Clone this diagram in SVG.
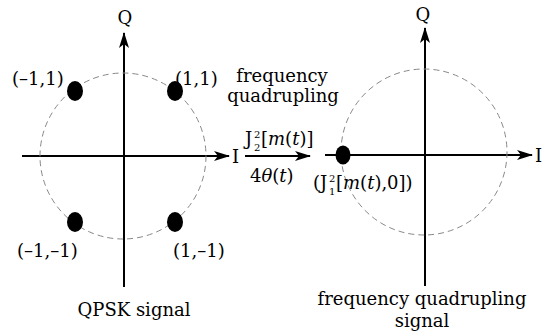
<svg xmlns="http://www.w3.org/2000/svg" width="556" height="334" viewBox="0 0 556 334">
<defs>
<style>
text{font-family:"DejaVu Serif","Liberation Serif",serif;font-size:18px;fill:#000}
.ax{stroke:#000;stroke-width:2;fill:none}
.circ{stroke:#888;stroke-width:1;fill:none;stroke-dasharray:6 4}
.dot{fill:#000}
.sm{font-size:10px}
.it{font-style:italic}
</style>
<marker id="ah" viewBox="0 0 16 10" refX="15" refY="5" markerWidth="16" markerHeight="10" markerUnits="userSpaceOnUse" orient="auto">
<path d="M0,0 L16,5 L0,10 L4,5 Z" fill="#000"/>
</marker>
</defs>
<rect width="556" height="334" fill="#fff"/>
<g id="connectors">
<line class="ax" x1="124" y1="287" x2="124" y2="33" marker-end="url(#ah)"/>
<line class="ax" x1="22" y1="156" x2="229" y2="156" marker-end="url(#ah)"/>
<line class="ax" x1="425" y1="286" x2="425" y2="28" marker-end="url(#ah)"/>
<line class="ax" x1="325" y1="155" x2="532" y2="155" marker-end="url(#ah)"/>
<line class="ax" x1="245" y1="156" x2="310" y2="156" marker-end="url(#ah)"/>
</g>
<g id="qpsk">
<circle class="circ" cx="123" cy="156" r="83"/>
<text x="125" y="24" text-anchor="middle">Q</text>
<text x="232" y="163">I</text>
<text x="134" y="316" text-anchor="middle">QPSK signal</text>
</g>
<g id="p-m1-1"><ellipse class="dot" cx="75" cy="91" rx="8" ry="10"/><text x="12" y="85">(–1,1)</text></g>
<g id="p-1-1"><ellipse class="dot" cx="175" cy="91" rx="8" ry="10"/><text x="175" y="85">(1,1)</text></g>
<g id="p-m1-m1"><ellipse class="dot" cx="75" cy="222" rx="8" ry="10"/><text x="17" y="257">(–1,–1)</text></g>
<g id="p-1-m1"><ellipse class="dot" cx="175" cy="222" rx="8" ry="10"/><text x="173" y="257">(1,–1)</text></g>
<g id="process">
<text x="282" y="82" text-anchor="middle">frequency</text>
<text x="283" y="102" text-anchor="middle">quadrupling</text>
<text x="245" y="145">J<tspan class="sm" x="254" y="138">2</tspan><tspan class="sm" x="254" y="151">2</tspan><tspan x="261" y="145">[<tspan class="it">m</tspan>(<tspan class="it">t</tspan>)]</tspan></text>
<text x="250" y="182">4<tspan class="it">θ</tspan>(<tspan class="it">t</tspan>)</text>
</g>
<g id="quad">
<circle class="circ" cx="424" cy="152" r="83"/>
<text x="423" y="21" text-anchor="middle">Q</text>
<text x="535" y="162">I</text>
<text x="422" y="305" text-anchor="middle">frequency quadrupling</text>
<text x="422" y="327" text-anchor="middle">signal</text>
</g>
<g id="p-center"><ellipse class="dot" cx="343" cy="155" rx="7.5" ry="9.5"/>
<text x="313" y="189">(J<tspan class="sm" x="329" y="182">2</tspan><tspan class="sm" x="329" y="195">1</tspan><tspan x="336" y="189">[<tspan class="it">m</tspan>(<tspan class="it">t</tspan>),0])</tspan></text>
</g>
</svg>
